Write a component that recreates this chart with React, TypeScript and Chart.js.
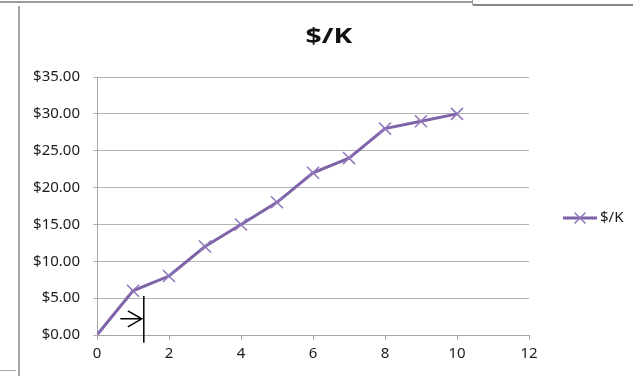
import React, { useEffect, useRef } from "react";
import { Chart, registerables } from "chart.js";

Chart.register(...registerables);

// Series data: cost per thousand at each step
const SERIES_LABEL = "$/K";
const stepValues = [0, 1, 2, 3, 4, 5, 6, 7, 8, 9, 10];
const dollarsPerK = [0, 6, 8, 12, 15, 18, 22, 24, 28, 29, 30];

// Axis ranges
const X_MIN = 0;
const X_MAX = 12;
const X_STEP = 2;
const Y_MIN = 0;
const Y_MAX = 35;
const Y_STEP = 5;

// Hand-drawn pointer (in data units): a vertical bar with an arrow pointing at it
const pointerX = 1.3;
const pointerTop = 5.3;
const pointerBottom = -1.05;
const arrowY = 2.2;
const arrowFromX = 0.65;

const LINE_COLOR = "#7f63a8";
const MARKER_COLOR = "#8f76ba";
const GRID_COLOR = "#b4b4b4";
const AXIS_COLOR = "#a6a6a6";
const TEXT_COLOR = "#1c1c1c";
const FONT_FAMILY = "'Noto Sans', 'DejaVu Sans', sans-serif";

const formatDollars = (v: number) => "$" + Number(v).toFixed(2);

const titlePlugin = {
  id: "excelTitle",
  afterDraw(chart: any) {
    const ctx = chart.ctx;
    ctx.save();
    ctx.fillStyle = "#111";
    ctx.font = `bold 21px ${FONT_FAMILY}`;
    ctx.textAlign = "center";
    ctx.textBaseline = "middle";
    ctx.translate(329, 37);
    ctx.scale(1.35, 1);
    ctx.fillText(SERIES_LABEL, 0, 0);
    ctx.restore();
  },
};

const legendPlugin = {
  id: "sideLegend",
  afterDraw(chart: any) {
    const ctx = chart.ctx;
    const ds = chart.data.datasets[0];
    const y = 218;
    const x0 = 563;
    const x1 = 597;
    ctx.save();
    ctx.strokeStyle = ds.borderColor;
    ctx.lineWidth = 3;
    ctx.beginPath();
    ctx.moveTo(x0, y);
    ctx.lineTo(x1, y);
    ctx.stroke();
    const cx = (x0 + x1) / 2;
    const r = 5.5;
    ctx.strokeStyle = ds.pointBorderColor;
    ctx.lineWidth = 1.5;
    ctx.beginPath();
    ctx.moveTo(cx - r, y - r);
    ctx.lineTo(cx + r, y + r);
    ctx.moveTo(cx + r, y - r);
    ctx.lineTo(cx - r, y + r);
    ctx.stroke();
    ctx.fillStyle = TEXT_COLOR;
    ctx.font = `15px ${FONT_FAMILY}`;
    ctx.textAlign = "left";
    ctx.textBaseline = "middle";
    ctx.fillText(ds.label, x1 + 3, y);
    ctx.restore();
  },
};

const pointerPlugin = {
  id: "pointerMark",
  afterDatasetsDraw(chart: any) {
    const { ctx, scales } = chart;
    const xs = scales.x;
    const ys = scales.y;
    const px = xs.getPixelForValue(pointerX);
    const top = ys.getPixelForValue(pointerTop);
    const bottom = ys.getPixelForValue(pointerBottom);
    const ay = ys.getPixelForValue(arrowY);
    const ax0 = xs.getPixelForValue(arrowFromX);
    const tip = px - 2;
    ctx.save();
    ctx.strokeStyle = "#000";
    ctx.lineWidth = 1.5;
    ctx.beginPath();
    ctx.moveTo(px, top);
    ctx.lineTo(px, bottom);
    ctx.moveTo(ax0, ay);
    ctx.lineTo(tip, ay);
    ctx.moveTo(tip - 14, ay - 8);
    ctx.lineTo(tip, ay);
    ctx.lineTo(tip - 14, ay + 8);
    ctx.stroke();
    ctx.restore();
  },
};

export default function App() {
  const canvasRef = useRef<HTMLCanvasElement | null>(null);

  useEffect(() => {
    const canvas = canvasRef.current;
    if (!canvas) return;
    const chart = new Chart(canvas, {
      type: "line",
      data: {
        datasets: [
          {
            label: SERIES_LABEL,
            data: stepValues.map((x, i) => ({ x, y: dollarsPerK[i] })),
            borderColor: LINE_COLOR,
            backgroundColor: LINE_COLOR,
            borderWidth: 3,
            tension: 0,
            fill: false,
            pointStyle: "crossRot",
            pointRadius: 8.5,
            pointBorderWidth: 1.5,
            pointBorderColor: MARKER_COLOR,
            pointBackgroundColor: MARKER_COLOR,
          },
        ],
      },
      options: {
        responsive: false,
        animation: false,
        devicePixelRatio: 1,
        layout: { padding: { top: 77, right: 104, left: 0, bottom: 0 } },
        plugins: {
          legend: { display: false },
          title: { display: false },
          tooltip: { enabled: false },
        },
        scales: {
          x: {
            type: "linear",
            min: X_MIN,
            max: X_MAX,
            ticks: {
              stepSize: X_STEP,
              color: TEXT_COLOR,
              font: { family: FONT_FAMILY, size: 15 },
              padding: 5,
            },
            grid: {
              drawOnChartArea: false,
              drawTicks: true,
              tickLength: 5,
              color: AXIS_COLOR,
            },
            border: { color: AXIS_COLOR, width: 1 },
            afterFit(scale: any) {
              scale.height = 41;
            },
          },
          y: {
            type: "linear",
            min: Y_MIN,
            max: Y_MAX,
            ticks: {
              stepSize: Y_STEP,
              color: TEXT_COLOR,
              font: { family: FONT_FAMILY, size: 15 },
              padding: 13,
              callback: (v: any) => formatDollars(v),
            },
            grid: { color: GRID_COLOR, tickLength: 4, lineWidth: 1 },
            border: { color: AXIS_COLOR, width: 1 },
            afterFit(scale: any) {
              scale.width = 97;
            },
          },
        },
      },
      plugins: [pointerPlugin, titlePlugin, legendPlugin],
    } as any);
    return () => chart.destroy();
  }, []);

  const line = (style: React.CSSProperties) => (
    <div style={{ position: "absolute", ...style }} />
  );

  return (
    <div
      style={{
        position: "fixed",
        left: 0,
        top: 0,
        width: 633,
        height: 376,
        background: "#fff",
        overflow: "hidden",
      }}
    >
      <canvas
        ref={canvasRef}
        width={633}
        height={376}
        style={{ position: "absolute", left: 0, top: 0, width: 633, height: 376 }}
      />
      {line({ left: 0, top: 1, width: 473, height: 2, background: "#9c9c9c" })}
      {line({ left: 472, top: 0, width: 1, height: 5, background: "#9c9c9c" })}
      {line({ left: 473, top: 4, width: 160, height: 2, background: "#878787" })}
      {line({ left: 18, top: 6, width: 2, height: 370, background: "#a8a8a8" })}
      {line({ left: 0, top: 370, width: 16, height: 1, background: "#a8a8a8" })}
    </div>
  );
}
